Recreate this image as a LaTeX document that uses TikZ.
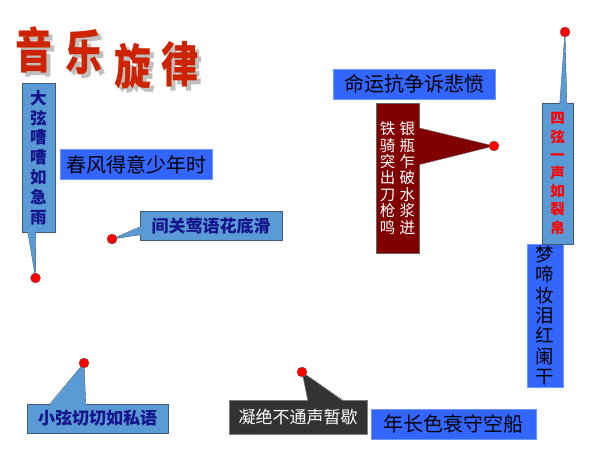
\documentclass[tikz,border=0pt]{standalone}
\usepackage{fontspec}
\setmainfont{Noto Sans CJK SC}
\usetikzlibrary{calc}
\definecolor{lightblue}{RGB}{91,155,213}
\definecolor{boxedge}{RGB}{65,90,120}
\definecolor{navytext}{RGB}{20,20,140}
\definecolor{brightblue}{RGB}{51,102,255}
\definecolor{blueedge}{RGB}{110,150,255}
\definecolor{winered}{RGB}{128,0,0}
\definecolor{coalgray}{RGB}{51,51,51}
\definecolor{titlered}{RGB}{205,35,0}

\begin{document}
\begin{tikzpicture}[x=1pt, y=-1pt,
		lightbox/.style={draw=boxedge, fill=lightblue, text=navytext, inner sep=0pt, font=\bfseries\fontsize{17}{17}\selectfont},
		bluebox/.style={draw=blueedge, fill=brightblue, text=black, inner sep=0pt, font=\fontsize{20}{20}\selectfont},
		dot/.style={circle, draw=black!60, fill=red, inner sep=0pt, minimum size=10pt},
		titlechar/.style={font=\bfseries\fontsize{37}{37}\selectfont, text=titlered}]
			\useasboundingbox (0,0) rectangle (600,450);
			% title with shadow
			\node[titlechar, text=black!25] (yinshadow) at (38,54) {\scalebox{1}[1.3]{音}};
			\node[titlechar, text=black!25] (leshadow) at (88,56) {\scalebox{1}[1.3]{乐}};
			\node[titlechar, text=black!25] (xuanshadow) at (137,70) {\scalebox{1}[1.3]{旋}};
			\node[titlechar, text=black!25] (lvshadow) at (184,68) {\scalebox{1}[1.3]{律}};
			\node[titlechar] (yin) at (34,50) {\scalebox{1}[1.3]{音}};
			\node[titlechar] (le) at (84,52) {\scalebox{1}[1.3]{乐}};
			\node[titlechar] (xuan) at (133,66) {\scalebox{1}[1.3]{旋}};
			\node[titlechar] (lv) at (180,64) {\scalebox{1}[1.3]{律}};
			% boxes
			\node[lightbox, minimum width=33pt, minimum height=149pt, align=center, font=\bfseries\fontsize{16.5}{19.8}\selectfont] (daxian) at (38.5,157.5) {大\\弦\\嘈\\嘈\\如\\急\\雨};
			\node[bluebox, minimum width=152pt, minimum height=30pt] (chunfeng) at (136,164.5) {春风得意少年时};
			\node[lightbox, minimum width=142pt, minimum height=29pt] (jianguan) at (211,225.5) {间关莺语花底滑};
			\node[bluebox, minimum width=162pt, minimum height=30pt] (mingyun) at (414,84) {命运抗争诉悲愤};
			\node[draw=black!60, fill=winered, text=white, inner sep=0pt, minimum width=43pt, minimum height=150pt, align=center, font=\fontsize{15.5}{16.4}\selectfont] (yinping) at (397.5,178) {铁\hspace{4.5pt}银\\骑\hspace{4.5pt}瓶\\突\hspace{4.5pt}乍\\出\hspace{4.5pt}破\\刀\hspace{4.5pt}水\\枪\hspace{4.5pt}浆\\鸣\hspace{4.5pt}迸};
			\node[bluebox, minimum width=36pt, minimum height=143pt, align=center, font=\fontsize{18.5}{20.4}\selectfont] (mengti) at (545,315.5) {梦\\啼\\妆\\泪\\红\\阑\\干};
			\node[lightbox, text=red, minimum width=31pt, minimum height=141pt, align=center, font=\bfseries\fontsize{14.5}{18.2}\selectfont] (sixian) at (557.5,173.5) {四\\弦\\一\\声\\如\\裂\\帛};
			\node[lightbox, minimum width=141pt, minimum height=29pt] (xiaoxian) at (97.5,418.5) {小弦切切如私语};
			\node[draw=black!50, fill=coalgray, text=white, inner sep=0pt, minimum width=138pt, minimum height=34pt, font=\fontsize{17}{17}\selectfont] (ningjue) at (298,417) {凝绝不通声暂歇};
			\node[bluebox, minimum width=165pt, minimum height=30pt] (nianchang) at (453.5,424) {年长色衰守空船};
			% pointer tips
			\coordinate (daxiantip) at (35.5,278);
			\coordinate (jianguantip) at (112,239);
			\coordinate (yinpingtip) at (494,146);
			\coordinate (sixiantip) at (565,32);
			\coordinate (xiaoxiantip) at (84,363);
			\coordinate (ningjuetip) at (302,372);
			% pointers
			\path[fill=lightblue] ($(daxian.south west)+(6,-1)$) -- (daxiantip) -- ($(daxian.south west)+(14,-1)$) -- cycle;
			\path[draw=boxedge] ($(daxian.south west)+(6,0)$) -- (daxiantip) -- ($(daxian.south west)+(14,0)$);
			\path[fill=lightblue] ($(jianguan.north west)+(1,16)$) -- (jianguantip) -- ($(jianguan.north west)+(1,24)$) -- cycle;
			\path[draw=boxedge] ($(jianguan.north west)+(0,16)$) -- (jianguantip) -- ($(jianguan.north west)+(0,24)$);
			\path[fill=winered] ($(yinping.north east)+(-1,25)$) -- (yinpingtip) -- ($(yinping.north east)+(-1,62)$) -- cycle;
			\path[draw=black!60] ($(yinping.north east)+(0,25)$) -- (yinpingtip) -- ($(yinping.north east)+(0,62)$);
			\path[fill=lightblue] ($(sixian.north west)+(18,1)$) -- (sixiantip) -- ($(sixian.north west)+(25,1)$) -- cycle;
			\path[draw=boxedge] ($(sixian.north west)+(18,0)$) -- (sixiantip) -- ($(sixian.north west)+(25,0)$);
			\path[fill=lightblue] ($(xiaoxian.north west)+(23,1)$) -- (xiaoxiantip) -- ($(xiaoxian.north west)+(59,1)$) -- cycle;
			\path[draw=boxedge] ($(xiaoxian.north west)+(23,0)$) -- (xiaoxiantip) -- ($(xiaoxian.north west)+(59,0)$);
			\path[fill=coalgray] ($(ningjue.north west)+(79,1)$) -- (ningjuetip) -- ($(ningjue.north west)+(114,1)$) -- cycle;
			\path[draw=black!50] ($(ningjue.north west)+(79,0)$) -- (ningjuetip) -- ($(ningjue.north west)+(114,0)$);
			% dots
			\node[dot] (daxiandot) at (daxiantip) {};
			\node[dot] (jianguandot) at (jianguantip) {};
			\node[dot] (yinpingdot) at (yinpingtip) {};
			\node[dot] (sixiandot) at (sixiantip) {};
			\node[dot] (xiaoxiandot) at (xiaoxiantip) {};
			\node[dot] (ningjuedot) at (ningjuetip) {};
		\end{tikzpicture}
\end{document}
